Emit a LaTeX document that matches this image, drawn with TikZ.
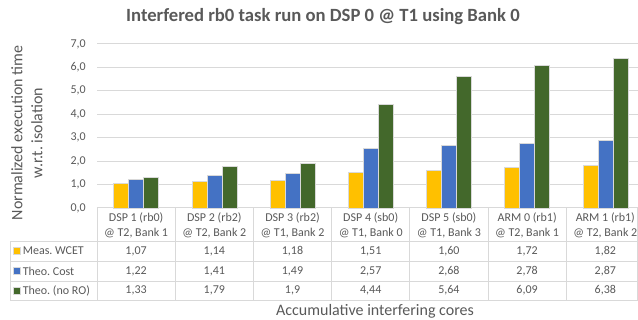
\documentclass[tikz,border=0pt]{standalone}
\usepackage{fontspec}
\setmainfont{Carlito}
\frenchspacing
\definecolor{meascol}{HTML}{FFC000}
\definecolor{costcol}{HTML}{4472C4}
\definecolor{norocol}{HTML}{43682B}
\definecolor{txtcol}{HTML}{595959}
\definecolor{gridcol}{HTML}{D9D9D9}
\begin{document}
\begin{tikzpicture}[x=0.75pt,y=-0.75pt]
        \tikzset{every node/.style={font=\fontsize{9}{11.25}\selectfont, text=txtcol, inner sep=0pt},
            gridline/.style={draw=gridcol, line width=0.75pt},
            cellline/.style={draw=gridcol, line width=0.75pt},
            bar/.style={draw=white!85!black, line width=0.4pt},
            keybox/.style={minimum size=5.5pt, draw=white!85!black, line width=0.3pt},
            axtitle/.style={font=\fontsize{12}{15}\selectfont}}
        \useasboundingbox (0,0) rectangle (638,320);
        \node[font=\fontsize{14}{17}\selectfont\bfseries] (title) at (323,17) {Interfered rb0 task run on DSP 0 @ T1 using Bank 0};
        % value axis
        \foreach \v in {0,...,7}{
            \node[anchor=east] (tick\v) at (86,208-23.43*\v) {\v,0};
            \draw[gridline] (97,208-23.43*\v) -- (638,208-23.43*\v);
        }
        \node[axtitle, rotate=90, align=center] (ytitle) at (27,133) {Normalized execution time\\w.r.t. isolation};
        % bars and table columns
        \foreach \k/\core/\place/\a/\b/\c/\la/\lb/\lc in {
            0/DSP 1 (rb0)/@ T2{,} Bank 1/1.07/1.22/1.33/1{,}07/1{,}22/1{,}33,
            1/DSP 2 (rb2)/@ T2{,} Bank 2/1.14/1.41/1.79/1{,}14/1{,}41/1{,}79,
            2/DSP 3 (rb2)/@ T1{,} Bank 2/1.18/1.49/1.9/1{,}18/1{,}49/1{,}9,
            3/DSP 4 (sb0)/@ T1{,} Bank 0/1.51/2.57/4.44/1{,}51/2{,}57/4{,}44,
            4/DSP 5 (sb0)/@ T1{,} Bank 3/1.60/2.68/5.64/1{,}60/2{,}68/5{,}64,
            5/ARM 0 (rb1)/@ T2{,} Bank 1/1.72/2.78/6.09/1{,}72/2{,}78/6{,}09,
            6/ARM 1 (rb1)/@ T2{,} Bank 2/1.82/2.87/6.38/1{,}82/2{,}87/6{,}38}{
            \pgfmathsetmacro{\cx}{97+78.2*(\k+0.5)}
            \filldraw[bar, fill=meascol] (\cx-22.5,208) rectangle (\cx-7.5,208-23.43*\a);
            \filldraw[bar, fill=costcol] (\cx-7.5,208) rectangle (\cx+7.5,208-23.43*\b);
            \filldraw[bar, fill=norocol] (\cx+7.5,208) rectangle (\cx+22.5,208-23.43*\c);
            \node[align=center] (head\k) at (\cx,225) {\core\\\place};
            \node (meas\k) at (\cx,251) {\la};
            \node (cost\k) at (\cx,271) {\lb};
            \node (noro\k) at (\cx,290.5) {\lc};
            \draw[cellline] (97+78.2*\k,208) -- (97+78.2*\k,300);
        }
        % table grid
        \draw[cellline] (637.5,208) -- (637.5,300);
        \draw[cellline] (10,241) -- (10,300);
        \foreach \y in {241,261,281,300}
            \draw[cellline] (10,\y) -- (638,\y);
        % legend keys
        \node[keybox, fill=meascol] (keymeas) at (17,251) {};
        \node[anchor=west] (labmeas) at (22.5,251) {Meas. WCET};
        \node[keybox, fill=costcol] (keycost) at (17,271) {};
        \node[anchor=west] (labcost) at (22.5,271) {Theo. Cost};
        \node[keybox, fill=norocol] (keynoro) at (17,290.5) {};
        \node[anchor=west] (labnoro) at (22.5,290.5) {Theo. (no RO)};
        \node[axtitle] (xtitle) at (375,311) {Accumulative interfering cores};
    \end{tikzpicture}
\end{document}
